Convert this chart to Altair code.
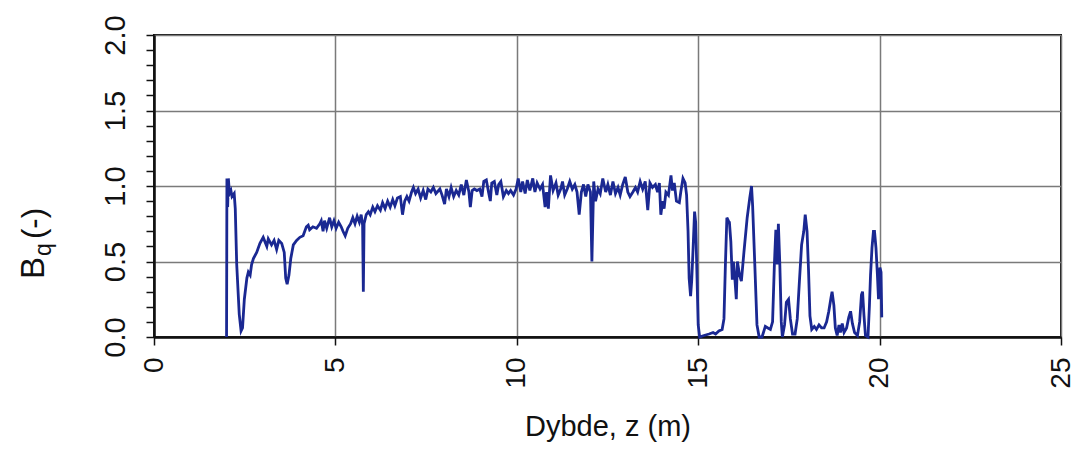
import altair as alt
import pandas as pd

depth = [
    2.00, 2.01, 2.03, 2.05, 2.08, 2.12, 2.15, 2.21, 2.24, 2.28, 2.35, 2.40, 2.44, 2.49, 2.56, 2.60,
    2.65, 2.69, 2.74, 2.83, 2.92, 3.01, 3.06, 3.11, 3.15, 3.24, 3.31, 3.38, 3.44, 3.52, 3.59, 3.63,
    3.67, 3.72, 3.77, 3.84, 3.93, 4.02, 4.11, 4.20, 4.25, 4.29, 4.38, 4.48, 4.57, 4.61, 4.66, 4.70,
    4.76, 4.84, 4.90, 4.96, 5.02, 5.09, 5.16, 5.21, 5.27, 5.34, 5.42, 5.48, 5.54, 5.60, 5.66, 5.71,
    5.75, 5.77, 5.79, 5.85, 5.91, 5.96, 6.03, 6.09, 6.16, 6.24, 6.30, 6.37, 6.44, 6.51, 6.58, 6.64,
    6.71, 6.79, 6.85, 6.91, 6.97, 7.03, 7.10, 7.15, 7.21, 7.28, 7.35, 7.42, 7.49, 7.55, 7.63, 7.70,
    7.77, 7.88, 7.94, 8.01, 8.06, 8.13, 8.19, 8.26, 8.33, 8.40, 8.47, 8.54, 8.61, 8.68, 8.72, 8.77,
    8.83, 8.90, 8.98, 9.04, 9.09, 9.16, 9.22, 9.27, 9.31, 9.38, 9.45, 9.50, 9.56, 9.63, 9.71, 9.77,
    9.83, 9.91, 9.98, 10.04, 10.11, 10.16, 10.23, 10.29, 10.36, 10.44, 10.50, 10.56, 10.64, 10.71, 10.78, 10.82,
    10.87, 10.93, 11.00, 11.08, 11.14, 11.21, 11.26, 11.32, 11.39, 11.46, 11.53, 11.60, 11.66, 11.72, 11.78, 11.84,
    11.90, 11.96, 12.03, 12.07, 12.12, 12.17, 12.24, 12.30, 12.37, 12.45, 12.51, 12.58, 12.65, 12.72, 12.79, 12.85,
    12.92, 12.99, 13.06, 13.12, 13.20, 13.27, 13.33, 13.40, 13.47, 13.54, 13.61, 13.67, 13.74, 13.82, 13.88, 13.93,
    13.97, 14.02, 14.06, 14.11, 14.18, 14.25, 14.29, 14.34, 14.40, 14.48, 14.52, 14.58, 14.64, 14.68, 14.72, 14.75,
    14.79, 14.82, 14.86, 14.90, 14.93, 14.97, 15.00, 15.04, 15.16, 15.30, 15.41, 15.48, 15.57, 15.66, 15.71, 15.75,
    15.79, 15.83, 15.86, 15.90, 15.94, 15.97, 16.01, 16.05, 16.08, 16.14, 16.19, 16.26, 16.35, 16.42, 16.47, 16.50,
    16.56, 16.62, 16.68, 16.76, 16.85, 16.92, 16.99, 17.05, 17.10, 17.14, 17.18, 17.21, 17.25, 17.29, 17.32, 17.38,
    17.43, 17.49, 17.54, 17.60, 17.67, 17.73, 17.79, 17.85, 17.91, 17.95, 18.00, 18.04, 18.08, 18.13, 18.20, 18.26,
    18.33, 18.40, 18.47, 18.54, 18.60, 18.66, 18.69, 18.74, 18.78, 18.83, 18.88, 18.92, 18.97, 19.02, 19.09, 19.15,
    19.20, 19.25, 19.31, 19.39, 19.45, 19.50, 19.53, 19.57, 19.61, 19.68, 19.72, 19.75, 19.79, 19.83, 19.86, 19.90,
    19.94, 19.97, 20.01, 20.04, 20.06,
]

bq = [
    0.00, 1.05, 0.86, 1.05, 0.95, 0.97, 0.93, 0.95, 0.85, 0.48, 0.15, 0.04, 0.06, 0.25, 0.39, 0.43,
    0.41, 0.48, 0.52, 0.56, 0.62, 0.66, 0.63, 0.60, 0.65, 0.61, 0.64, 0.58, 0.64, 0.62, 0.56, 0.39,
    0.35, 0.41, 0.52, 0.61, 0.64, 0.66, 0.67, 0.73, 0.74, 0.71, 0.73, 0.72, 0.75, 0.77, 0.70, 0.77,
    0.72, 0.79, 0.73, 0.77, 0.72, 0.76, 0.73, 0.70, 0.67, 0.72, 0.75, 0.79, 0.75, 0.80, 0.76, 0.81,
    0.74, 0.30, 0.75, 0.81, 0.83, 0.81, 0.86, 0.83, 0.87, 0.84, 0.89, 0.85, 0.90, 0.86, 0.91, 0.87,
    0.92, 0.93, 0.81, 0.90, 0.93, 0.90, 0.96, 0.99, 0.95, 0.98, 0.92, 0.97, 0.91, 0.98, 0.96, 0.99,
    0.95, 0.98, 0.94, 0.88, 0.98, 0.93, 0.99, 0.93, 0.97, 0.94, 1.01, 0.94, 1.04, 0.96, 0.86, 0.97,
    0.98, 0.97, 0.98, 0.93, 1.03, 1.04, 0.96, 0.90, 1.02, 1.03, 0.94, 1.01, 1.03, 0.93, 0.97, 0.95,
    0.97, 0.94, 0.98, 1.05, 0.96, 1.03, 0.95, 1.04, 0.97, 1.05, 0.96, 1.02, 0.98, 1.01, 0.86, 0.96,
    0.85, 1.07, 0.97, 1.02, 0.94, 0.98, 1.03, 0.94, 0.98, 1.03, 0.98, 1.01, 0.96, 0.81, 0.96, 1.01,
    0.93, 1.01, 0.96, 0.50, 1.03, 0.90, 0.98, 0.95, 1.05, 0.96, 1.01, 0.94, 1.03, 0.95, 0.99, 0.94,
    1.01, 1.06, 0.96, 0.93, 0.96, 0.99, 0.96, 1.03, 0.98, 1.03, 0.84, 1.02, 0.99, 1.01, 0.96, 1.02,
    0.81, 0.90, 0.85, 0.96, 0.94, 1.07, 0.97, 1.02, 0.90, 0.89, 0.96, 1.05, 1.02, 0.94, 0.70, 0.39,
    0.27, 0.37, 0.59, 0.83, 0.76, 0.37, 0.08, 0.00, 0.01, 0.02, 0.03, 0.02, 0.04, 0.05, 0.12, 0.48,
    0.79, 0.77, 0.76, 0.63, 0.38, 0.50, 0.39, 0.25, 0.50, 0.41, 0.37, 0.56, 0.79, 0.92, 1.00, 0.87,
    0.48, 0.08, 0.00, 0.00, 0.07, 0.06, 0.05, 0.10, 0.48, 0.71, 0.48, 0.75, 0.48, 0.10, 0.00, 0.08,
    0.23, 0.25, 0.12, 0.02, 0.02, 0.12, 0.37, 0.61, 0.70, 0.81, 0.70, 0.45, 0.14, 0.05, 0.07, 0.05,
    0.08, 0.06, 0.06, 0.10, 0.17, 0.26, 0.30, 0.21, 0.06, 0.01, 0.08, 0.03, 0.09, 0.03, 0.06, 0.13,
    0.17, 0.09, 0.03, 0.01, 0.10, 0.28, 0.30, 0.14, 0.01, 0.00, 0.21, 0.41, 0.59, 0.70, 0.70, 0.59,
    0.41, 0.25, 0.46, 0.43, 0.13,
]

x_ticks = [0, 5, 10, 15, 20, 25]
y_ticks = [round(i * 0.1, 1) for i in range(21)]
x_title = "Dybde, z (m)"
y_title_main = ["B"]
y_title_sub = ["q"]
y_title_tail = ["(-)"]

FONT = "Liberation Sans"
df = pd.DataFrame({"depth": depth, "bq": bq, "idx": list(range(len(depth)))})

half_test = "abs(datum.value * 2 - round(datum.value * 2)) < 0.001"

line = alt.Chart(df).mark_line(color="#1a2892", strokeWidth=2.8).encode(
    x=alt.X(
        "depth:Q",
        scale=alt.Scale(domain=[0, 25], nice=False, zero=False),
        axis=alt.Axis(
            values=x_ticks, title=x_title, labelAngle=270, labelFontSize=28,
            labelFont=FONT, labelColor="#111", labelPadding=12, tickSize=8,
            tickColor="#111", tickWidth=1.5, domainColor="#111", domainWidth=2.5,
            grid=True, gridColor="#7a7a7a", gridWidth=1.5,
            titleFont=FONT, titleFontSize=29, titleFontWeight="normal",
            titleColor="#111", titlePadding=24,
        ),
    ),
    y=alt.Y(
        "bq:Q",
        scale=alt.Scale(domain=[0, 2], nice=False),
        axis=alt.Axis(
            values=y_ticks, title=None, labelAngle=270, labelFontSize=29,
            labelFont=FONT, labelColor="#111", labelPadding=16,
            labelExpr=f"({half_test}) ? format(datum.value, '.1f') : ''",
            tickSize=8, tickColor="#111", tickWidth=1.5,
            domainColor="#111", domainWidth=2.5,
            grid=True, gridColor="#7a7a7a", gridWidth=1.5,
            gridOpacity={"condition": {"test": half_test, "value": 1}, "value": 0},
        ),
    ),
    order="idx:Q",
)

t_main = alt.Chart(pd.DataFrame({"t": y_title_main})).mark_text(
    angle=270, align="left", baseline="alphabetic", fontSize=33, font=FONT, color="#111"
).encode(x=alt.value(-110), y=alt.value(244), text="t:N")

t_sub = alt.Chart(pd.DataFrame({"t": y_title_sub})).mark_text(
    angle=270, align="left", baseline="alphabetic", fontSize=23, font=FONT, color="#111"
).encode(x=alt.value(-103), y=alt.value(221), text="t:N")

t_tail = alt.Chart(pd.DataFrame({"t": y_title_tail})).mark_text(
    angle=270, align="left", baseline="alphabetic", fontSize=31, font=FONT, color="#111"
).encode(x=alt.value(-110), y=alt.value(204), text="t:N")

chart = alt.layer(line, t_main, t_sub, t_tail).properties(
    width=907, height=302,
    autosize=alt.AutoSizeParams(type="none"),
    padding={"left": 146, "top": 27, "right": 19, "bottom": 105},
    background="white",
).configure_view(stroke="#111", strokeWidth=2)

chart.save("out.html", embed_options={"renderer": "svg", "actions": False})
